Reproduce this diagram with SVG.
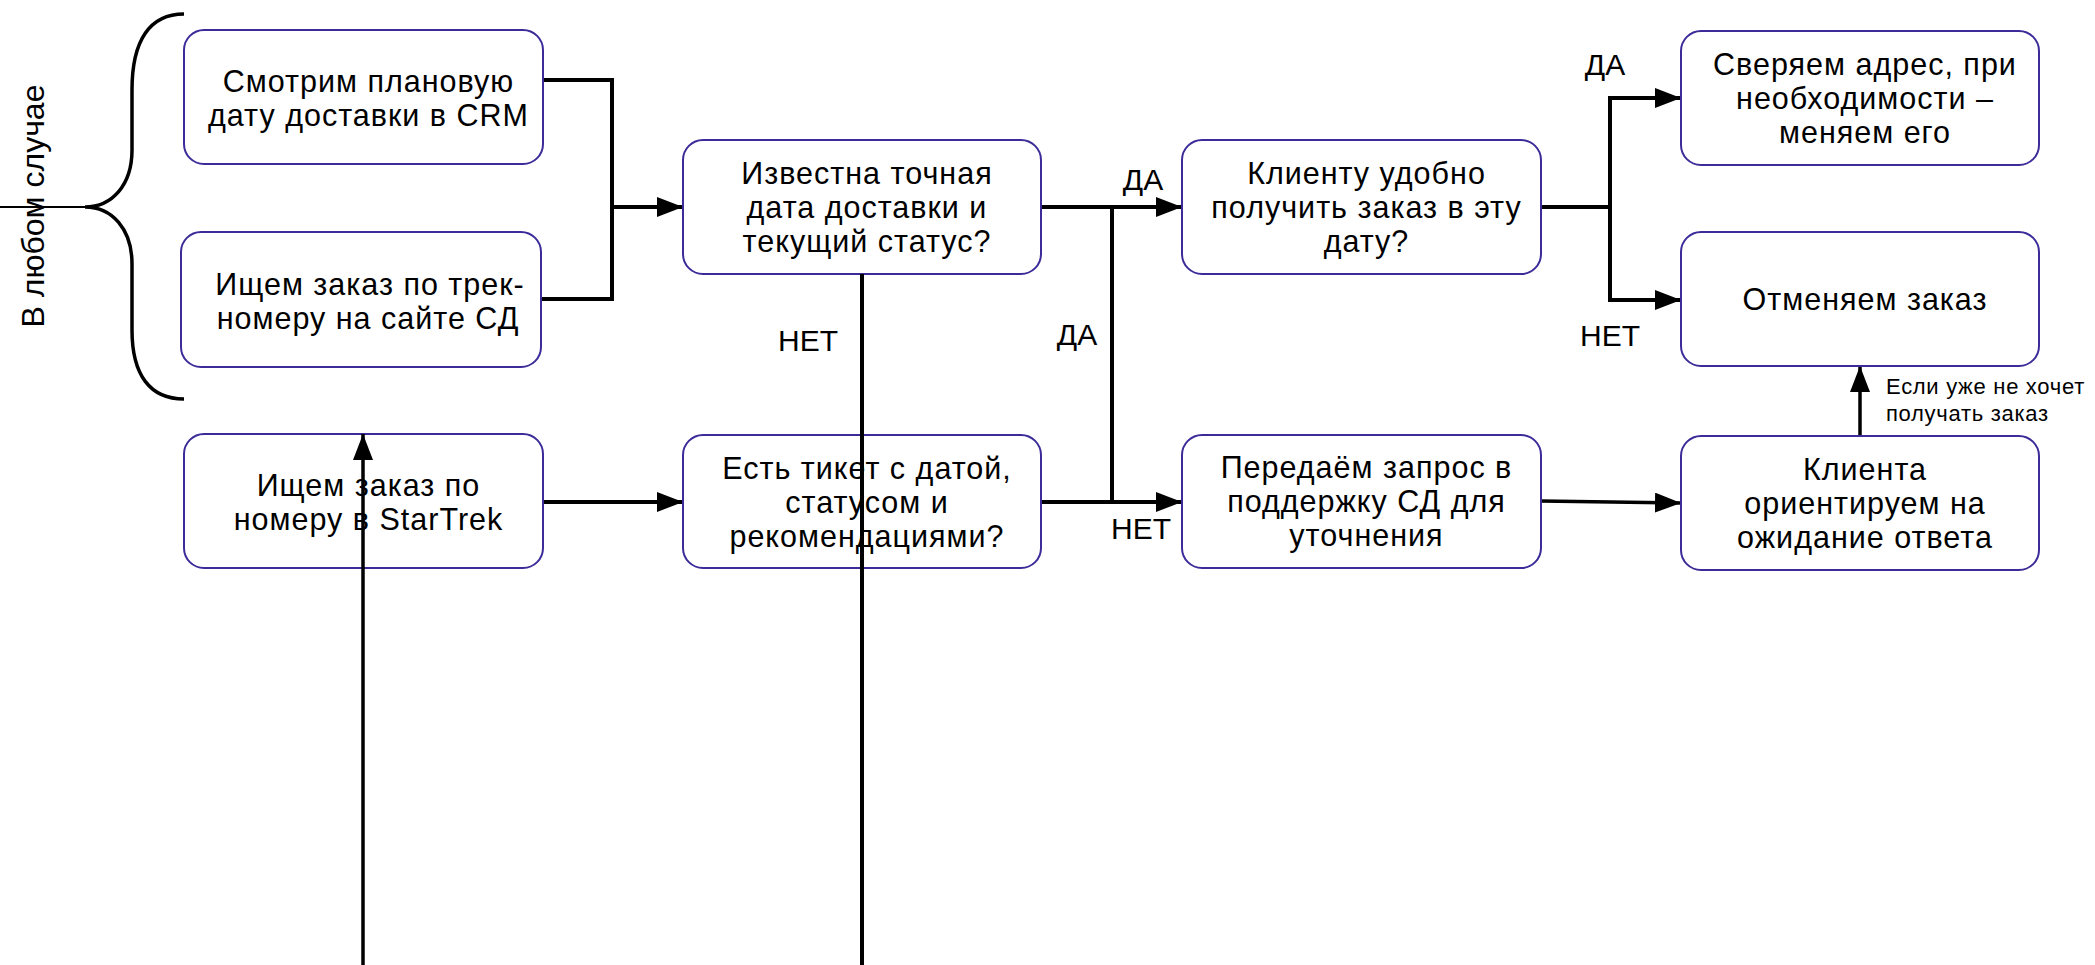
<svg xmlns="http://www.w3.org/2000/svg" width="2095" height="965" viewBox="0 0 2095 965">
<style>
.box{fill:#ffffff;stroke:#3b2c99;stroke-width:2}
.t{font-family:"Liberation Sans",Arial,sans-serif;font-size:30.5px;letter-spacing:1px;fill:#000;text-anchor:middle}
.rot{font-family:"Liberation Sans",Arial,sans-serif;font-size:32px;fill:#000;text-anchor:middle}
.lbl{font-family:"Liberation Sans",Arial,sans-serif;font-size:30px;fill:#000;text-anchor:middle}
.sm{font-family:"Liberation Sans",Arial,sans-serif;font-size:22px;letter-spacing:0.7px;fill:#000}
.c{fill:none;stroke:#000;stroke-width:4}
.c3{fill:none;stroke:#000;stroke-width:3.5}
</style>
<defs>
<marker id="ah" markerUnits="userSpaceOnUse" markerWidth="26" markerHeight="20" refX="26" refY="10" orient="auto">
<path d="M0,0 L26,10 L0,20 Z" fill="#000"/>
</marker>
</defs>
<rect width="2095" height="965" fill="#ffffff"/>

<g id="brace">
<path d="M184,14 C150,14 132,40 132,90 L132,150 C132,185 112,207 85,207 C112,207 132,229 132,264 L132,330 C132,375 150,399 184,399" fill="none" stroke="#000" stroke-width="3.5"/>
<line x1="0" y1="207" x2="88" y2="207" stroke="#000" stroke-width="2"/>
<text class="rot" transform="translate(44,206) rotate(-90)">В любом случае</text>
</g>

<g id="connectors">
<polyline class="c" points="543,80 612,80 612,299 541,299"/>
<line class="c" x1="612" y1="207" x2="683" y2="207" marker-end="url(#ah)"/>
<line class="c" x1="1041" y1="207" x2="1182" y2="207" marker-end="url(#ah)"/>
<line class="c" x1="1112" y1="207" x2="1112" y2="502"/>
<line class="c" x1="1041" y1="502" x2="1182" y2="502" marker-end="url(#ah)"/>
<line class="c" x1="543" y1="502" x2="683" y2="502" marker-end="url(#ah)"/>
<line class="c3" x1="1541" y1="501" x2="1681" y2="503" marker-end="url(#ah)"/>
<polyline class="c" points="1541,207 1610,207"/>
<polyline class="c" points="1681,98 1610,98 1610,300 1681,300"/>
<line class="c" x1="1640" y1="98" x2="1681" y2="98" marker-end="url(#ah)"/>
<line class="c" x1="1640" y1="300" x2="1681" y2="300" marker-end="url(#ah)"/>
<line class="c3" x1="1860" y1="436" x2="1860" y2="366" marker-end="url(#ah)"/>
<text class="lbl" x="1143" y="190">ДА</text>
<text class="lbl" x="1077" y="345">ДА</text>
<text class="lbl" x="1141" y="539">НЕТ</text>
<text class="lbl" x="808" y="351">НЕТ</text>
<text class="lbl" x="1605" y="75">ДА</text>
<text class="lbl" x="1610" y="346">НЕТ</text>
<text class="sm" x="1886" y="394">Если уже не хочет</text>
<text class="sm" x="1886" y="421">получать заказ</text>
</g>

<g id="n1">
<rect class="box" x="184" y="30" width="359" height="134" rx="20"/>
<text class="t" x="368.5" y="92">Смотрим плановую</text>
<text class="t" x="368.5" y="126">дату доставки в CRM</text>
</g>
<g id="n2">
<rect class="box" x="181" y="232" width="360" height="135" rx="20"/>
<text class="t" x="370" y="295">Ищем заказ по трек-</text>
<text class="t" x="368" y="329">номеру на сайте СД</text>
</g>
<g id="n3">
<rect class="box" x="683" y="140" width="358" height="134" rx="20"/>
<text class="t" x="867" y="184">Известна точная</text>
<text class="t" x="867" y="218">дата доставки и</text>
<text class="t" x="867" y="252">текущий статус?</text>
</g>
<g id="n4">
<rect class="box" x="683" y="435" width="358" height="133" rx="20"/>
<text class="t" x="867" y="479">Есть тикет с датой,</text>
<text class="t" x="867" y="513">статусом и</text>
<text class="t" x="867" y="547">рекомендациями?</text>
</g>
<g id="n5">
<rect class="box" x="184" y="434" width="359" height="134" rx="20"/>
<text class="t" x="368.5" y="496">Ищем заказ по</text>
<text class="t" x="368.5" y="530">номеру в StarTrek</text>
</g>
<g id="n6">
<rect class="box" x="1182" y="140" width="359" height="134" rx="20"/>
<text class="t" x="1366.5" y="184">Клиенту удобно</text>
<text class="t" x="1366.5" y="218">получить заказ в эту</text>
<text class="t" x="1366.5" y="252">дату?</text>
</g>
<g id="n7">
<rect class="box" x="1681" y="31" width="358" height="134" rx="20"/>
<text class="t" x="1865" y="75">Сверяем адрес, при</text>
<text class="t" x="1865" y="109">необходимости –</text>
<text class="t" x="1865" y="143">меняем его</text>
</g>
<g id="n8">
<rect class="box" x="1681" y="232" width="358" height="134" rx="20"/>
<text class="t" x="1865" y="310">Отменяем заказ</text>
</g>
<g id="n9">
<rect class="box" x="1681" y="436" width="358" height="134" rx="20"/>
<text class="t" x="1865" y="480">Клиента</text>
<text class="t" x="1865" y="514">ориентируем на</text>
<text class="t" x="1865" y="548">ожидание ответа</text>
</g>
<g id="n10">
<rect class="box" x="1182" y="435" width="359" height="133" rx="20"/>
<text class="t" x="1366.5" y="478">Передаём запрос в</text>
<text class="t" x="1366.5" y="512">поддержку СД для</text>
<text class="t" x="1366.5" y="546">уточнения</text>
</g>

<g id="overlay-lines">
<line class="c" x1="862" y1="274" x2="862" y2="965"/>
<line class="c3" x1="363" y1="965" x2="363" y2="434" marker-end="url(#ah)"/>
</g>
</svg>
